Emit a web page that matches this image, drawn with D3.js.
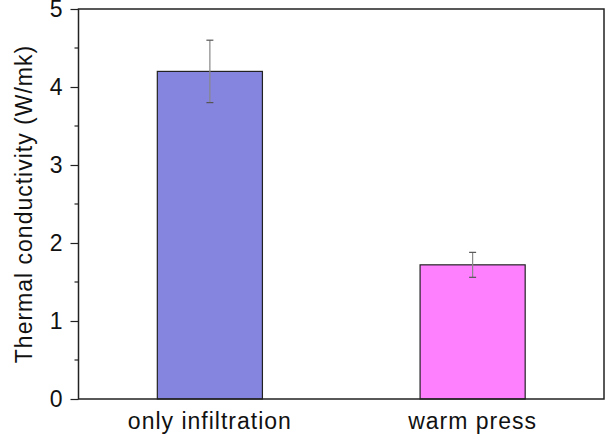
<!DOCTYPE html>
<html>
<head>
<meta charset="utf-8">
<script src="https://cdn.jsdelivr.net/npm/d3@7"></script>
<style>
body { margin: 0; background: #fff; }
text { font-family: "Liberation Sans", Arial, sans-serif; fill: #111; }
</style>
</head>
<body>
<div id="chart"></div>
<script>
var categories = ['only infiltration', 'warm press'];
var values = [4.2, 1.72];
var errors = [0.4, 0.16];
var colors = ['#8584de', '#ff80ff'];
var yTicks = [0, 1, 2, 3, 4, 5];
var yMinorTicks = [0.5, 1.5, 2.5, 3.5, 4.5];

var W = 606, H = 437;
var margin = {left: 78.5, right: 2, top: 9, bottom: 38};
var svg = d3.select('#chart').append('svg').attr('width', W).attr('height', H);

var x = d3.scaleBand().domain(categories).range([margin.left, W - margin.right]).paddingInner(0.6).paddingOuter(0.3);
var y = d3.scaleLinear().domain([0, 5]).range([H - margin.bottom, margin.top]);

// bars
svg.selectAll('rect.bar').data(values).enter().append('rect')
    .attr('class', 'bar')
    .attr('x', function(d, i){ return x(categories[i]); })
    .attr('y', function(d){ return y(d); })
    .attr('width', x.bandwidth())
    .attr('height', function(d){ return y(0) - y(d); })
    .attr('fill', function(d, i){ return colors[i]; })
    .attr('stroke', '#222')
    .attr('stroke-width', 1.2);

// error bars
var eb = svg.selectAll('g.err').data(values).enter().append('g').attr('class', 'err')
    .attr('stroke', '#555').attr('stroke-width', 1.2);
eb.append('line')
    .attr('x1', function(d, i){ return x(categories[i]) + x.bandwidth() / 2; })
    .attr('x2', function(d, i){ return x(categories[i]) + x.bandwidth() / 2; })
    .attr('y1', function(d, i){ return y(d + errors[i]); })
    .attr('y2', function(d, i){ return y(d - errors[i]); })
    .attr('stroke', '#888');
[1, -1].forEach(function(s) {
  eb.append('line')
    .attr('x1', function(d, i){ return x(categories[i]) + x.bandwidth() / 2 - 3.5; })
    .attr('x2', function(d, i){ return x(categories[i]) + x.bandwidth() / 2 + 3.5; })
    .attr('y1', function(d, i){ return y(d + s * errors[i]); })
    .attr('y2', function(d, i){ return y(d + s * errors[i]); });
});

// frame
svg.append('rect')
    .attr('x', margin.left).attr('y', margin.top)
    .attr('width', W - margin.right - margin.left).attr('height', y(0) - margin.top)
    .attr('fill', 'none').attr('stroke', '#222').attr('stroke-width', 1.5);

// y axis
var yAxis = svg.append('g').attr('transform', 'translate(' + margin.left + ',0)')
    .call(d3.axisLeft(y).tickValues(yTicks).tickSize(8).tickPadding(8).tickFormat(d3.format('d')));
yAxis.select('.domain').remove();
yAxis.selectAll('line').attr('stroke', '#222').attr('stroke-width', 1.2);
yAxis.selectAll('text').attr('font-size', 23).attr('fill', '#111');
svg.append('g').selectAll('line').data(yMinorTicks).enter().append('line')
    .attr('x1', margin.left - 4).attr('x2', margin.left)
    .attr('y1', function(d){ return y(d); }).attr('y2', function(d){ return y(d); })
    .attr('stroke', '#222').attr('stroke-width', 1.2);

// x axis labels
var xAxis = svg.append('g').attr('transform', 'translate(0,' + y(0) + ')')
    .call(d3.axisBottom(x).tickSize(0).tickPadding(14));
xAxis.select('.domain').remove();
xAxis.selectAll('text').attr('font-size', 23).attr('fill', '#111').style('letter-spacing', '1px');

// y title
svg.append('text')
    .attr('transform', 'translate(32,' + y(2.5) + ') rotate(-90)')
    .attr('text-anchor', 'middle')
    .attr('font-size', 23)
    .style('letter-spacing', '1px')
    .text('Thermal conductivity (W/mk)');
</script>
</body>
</html>
